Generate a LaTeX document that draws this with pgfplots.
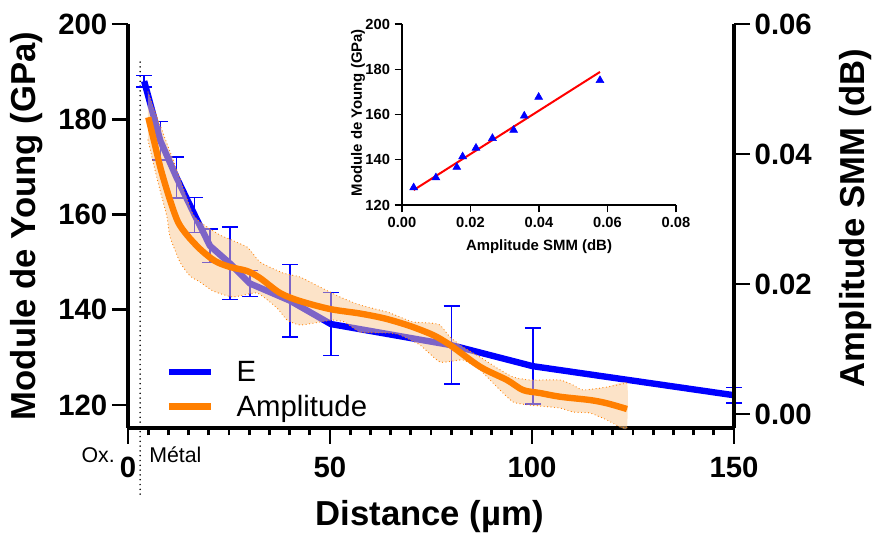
\documentclass[border=0pt]{standalone}
\usepackage{fontspec}
\setmainfont{Liberation Sans}
\usepackage{pgfplots}
\usepackage{pgfplotstable}
\pgfplotsset{compat=1.18}
\definecolor{eblue}{RGB}{0,0,255}
\definecolor{aorange}{RGB}{255,127,0}
\definecolor{bandc}{RGB}{250,200,145}

\pgfplotstableread{
x y err
4 188 1.2
8 175.5 4
12 167.8 4.3
16.5 159.9 3.7
20.3 153.4 3.5
25.2 149.75 7.6
30.2 145.5 2.7
40.1 141.9 7.6
50.2 137.0 6.6
80.1 132.55 8.2
100.2 128.15 8.0
150 122.05 1.6
}\Edata

\pgfplotstableread{
x a
5.02 0.04565
6.68 0.04138
8.17 0.03754
10.40 0.03292
12.38 0.02954
14.60 0.02754
17.82 0.02538
21.53 0.02354
25.25 0.02262
29.46 0.02200
32.67 0.02092
37.62 0.01862
42.57 0.01738
50.0 0.01615
57.43 0.01546
63.61 0.01469
69.80 0.01354
75.50 0.01215
79.70 0.01062
87.13 0.00728
93.81 0.00523
97.77 0.00369
101.98 0.00323
106.93 0.00266
114.36 0.00215
118.56 0.00165
123.51 0.00077
}\Adata

\pgfplotstableread{
x a
4.95 0.04954
7.92 0.04446
11.63 0.03831
15.84 0.03108
17.82 0.02954
22.77 0.02754
29.46 0.02569
32.67 0.02338
38.37 0.02169
42.57 0.02108
47.52 0.01954
52.48 0.01800
57.43 0.01677
64.11 0.01569
67.33 0.01492
70.54 0.01415
74.75 0.01400
77.23 0.01369
79.70 0.01185
82.92 0.01031
87.13 0.00877
91.34 0.00708
95.30 0.00569
99.50 0.00523
106.93 0.00523
110.15 0.00446
112.62 0.00369
118.56 0.00415
123.51 0.00477
}\Aup

\pgfplotstableread{
x a
4.95 0.04215
6.68 0.03754
7.92 0.03446
9.65 0.03031
10.40 0.02723
12.87 0.02338
15.35 0.02123
17.82 0.02031
21.04 0.01892
25.99 0.01800
31.93 0.01862
36.88 0.01631
39.36 0.01446
42.57 0.01369
47.52 0.01415
50.74 0.01446
53.71 0.01415
57.43 0.01262
64.85 0.01246
67.33 0.01215
72.28 0.01062
77.23 0.00800
82.92 0.00831
87.13 0.00677
91.34 0.00415
95.30 0.00185
99.50 0.00138
106.93 0.00092
110.15 0.00031
114.36 0.00015
118.56 -0.00092
121.78 -0.00200
123.51 -0.00210
}\Alow

% band outline: upper edge, then lower edge in reverse
\pgfplotstableread{
x a
4.95 0.04954
7.92 0.04446
11.63 0.03831
15.84 0.03108
17.82 0.02954
22.77 0.02754
29.46 0.02569
32.67 0.02338
38.37 0.02169
42.57 0.02108
47.52 0.01954
52.48 0.01800
57.43 0.01677
64.11 0.01569
67.33 0.01492
70.54 0.01415
74.75 0.01400
77.23 0.01369
79.70 0.01185
82.92 0.01031
87.13 0.00877
91.34 0.00708
95.30 0.00569
99.50 0.00523
106.93 0.00523
110.15 0.00446
112.62 0.00369
118.56 0.00415
123.51 0.00477
123.51 -0.00210
121.78 -0.00200
118.56 -0.00092
114.36 0.00015
110.15 0.00031
106.93 0.00092
99.50 0.00138
95.30 0.00185
91.34 0.00415
87.13 0.00677
82.92 0.00831
77.23 0.00800
72.28 0.01062
67.33 0.01215
64.85 0.01246
57.43 0.01262
53.71 0.01415
50.74 0.01446
47.52 0.01415
42.57 0.01369
39.36 0.01446
36.88 0.01631
31.93 0.01862
25.99 0.01800
21.04 0.01892
17.82 0.02031
15.35 0.02123
12.87 0.02338
10.40 0.02723
9.65 0.03031
7.92 0.03446
6.68 0.03754
4.95 0.04215
}\Aband

\pgfplotstableread{
x y
0.0034 127.7
0.0099 132.1
0.0160 136.7
0.0177 141.4
0.0216 145.2
0.0264 149.5
0.0326 153.1
0.0357 159.4
0.0399 167.7
0.0578 175.1
}\Inset

\begin{document}
\begin{tikzpicture}
\useasboundingbox (0,0) rectangle (655.5pt,401.25pt);
\pgfplotsset{
  common/.style={
    scale only axis, width=454.5pt, height=303pt,
    at={(96pt,80.25pt)}, anchor=south west,
    xmin=0, xmax=150,
    /pgf/number format/assume math mode=true,
    tick align=outside,
    major tick length=12pt, minor tick length=5.5pt,
    every tick/.style={black, line width=2.2pt},
    axis line style={line width=3pt},
    ticklabel style={font=\fontsize{22}{26}\selectfont\bfseries},
    label style={font=\fontsize{26}{30}\selectfont\bfseries},
    clip=false,
  }
}
% ---------- main (E) axis
\begin{axis}[common,
  ymin=115.17, ymax=200,
  axis x line*=bottom, axis y line*=left,
  xtick={0,50,100,150}, minor x tick num=9,
  ytick={120,140,160,180,200},
  xticklabel style={yshift=-6pt},
  xlabel={Distance (µm)},
  ylabel={Module de Young (GPa)},
  xlabel style={at={(axis description cs:0.498,-0.22)}, anchor=center},
  ylabel style={at={(axis description cs:-0.167,0.5)}, anchor=center},
]
\addplot[black, line width=1.3pt, dash pattern=on 0pt off 3.6pt, line cap=round]
  coordinates {(3,192) (3,100.7)};
\addplot[eblue, line width=4.8pt, line join=round,
  error bars/.cd, y dir=both, y explicit,
  error bar style={line width=1.2pt, eblue},
  error mark options={rotate=90, mark size=6pt, line width=1.2pt, eblue}]
  table[x=x, y=y, y error=err] {\Edata};
\node[anchor=east, inner sep=0pt, font=\fontsize{16}{19}\selectfont] at (axis cs:-3.2,109.5) {Ox.};
\node[anchor=west, inner sep=0pt, font=\fontsize{16}{19}\selectfont] at (axis cs:5.2,109.5) {Métal};
\end{axis}
% ---------- amplitude axis (right)
\begin{axis}[common,
  ymin=-0.00215, ymax=0.06,
  axis x line=none, axis y line*=right,
  ytick={0,0.02,0.04,0.06},
  scaled y ticks=false,
  yticklabel style={/pgf/number format/fixed, /pgf/number format/fixed zerofill, /pgf/number format/precision=2},
  ylabel={Amplitude SMM (dB)},
  ylabel style={at={(axis description cs:1.2,0.52)}, anchor=center},
  legend style={at={(axis description cs:0.055,0.18)}, anchor=north west, draw=none, fill=none,
    font=\fontsize{22}{26}\selectfont, row sep=5pt, nodes={inner xsep=6pt},
    /tikz/every odd column/.append style={column sep=11pt}},
  legend image code/.code={\draw[#1, line width=4.8pt] (0pt,0pt) -- (31.5pt,0pt);},
  legend cell align=left,
]
\addlegendimage{eblue}
\addlegendentry{E}
\addplot[fill=bandc, fill opacity=0.5, draw=none, smooth, tension=0.3, forget plot] table[x=x, y=a] {\Aband} -- cycle;
\addplot[aorange, line width=0.9pt, dash pattern=on 0pt off 2.6pt, line cap=round, smooth, tension=0.3, forget plot] table[x=x, y=a] {\Aup};
\addplot[aorange, line width=0.9pt, dash pattern=on 0pt off 2.6pt, line cap=round, smooth, tension=0.3, forget plot] table[x=x, y=a] {\Alow};
\addplot[aorange, line width=4.8pt, smooth, tension=0.5] table[x=x, y=a] {\Adata};
\addlegendentry{Amplitude}
\end{axis}
% ---------- inset
\begin{axis}[
  scale only axis, width=205.5pt, height=135.75pt,
  at={(301.5pt,247.5pt)}, anchor=south west,
  xmin=0, xmax=0.08, ymin=120, ymax=200,
  axis x line*=bottom, axis y line*=left,
  /pgf/number format/assume math mode=true,
  tick align=outside, major tick length=5.5pt,
  every tick/.style={black, line width=1.1pt},
  axis line style={line width=1.2pt},
  xtick={0,0.02,0.04,0.06,0.08}, ytick={120,140,160,180,200},
  scaled x ticks=false,
  xticklabel style={/pgf/number format/fixed, /pgf/number format/fixed zerofill, /pgf/number format/precision=2},
  ticklabel style={font=\fontsize{11}{13}\selectfont\bfseries},
  label style={font=\fontsize{11.2}{13}\selectfont\bfseries},
  xlabel={Amplitude SMM (dB)}, ylabel={Module de Young (GPa)},
  xlabel style={at={(axis description cs:0.5,-0.23)}, anchor=center},
  ylabel style={at={(axis description cs:-0.16,0.51)}, anchor=center},
  clip=false,
]
\addplot[red, line width=1.5pt] coordinates {(0.0034,126.6) (0.0578,178.8)};
\addplot[only marks, mark=triangle*, mark size=3.4pt, eblue] table[x=x, y=y] {\Inset};
\end{axis}
\end{tikzpicture}
\end{document}
